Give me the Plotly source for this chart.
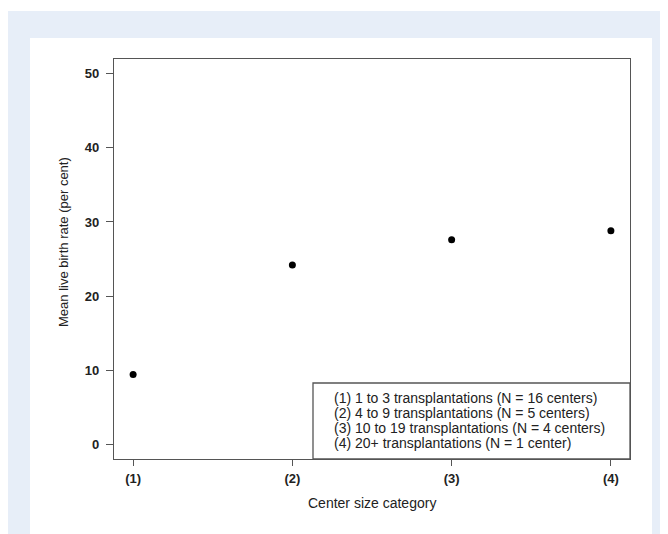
import plotly.graph_objects as go

categories = [1, 2, 3, 4]
category_labels = ["(1)", "(2)", "(3)", "(4)"]
mean_live_birth_rate = [9.4, 24.2, 27.6, 28.8]
y_ticks = [0, 10, 20, 30, 40, 50]
legend_lines = [
    "(1) 1 to 3 transplantations (N = 16 centers)",
    "(2) 4 to 9 transplantations (N = 5 centers)",
    "(3) 10 to 19 transplantations (N = 4 centers)",
    "(4) 20+ transplantations (N = 1 center)",
]

OFF = 8  # page body margin
W, H = 660, 526
L, T = 114 - OFF, 59 - OFF
Rgt, Bot = 630 - OFF, 459 - OFF
R, B = W - Rgt, H - Bot
pw, ph = Rgt - L, Bot - T


def px_x(p):
    return (p - OFF - L) / pw


def px_y(p):
    return (Bot - (p - OFF)) / ph


FONT = "Liberation Sans, Arial, Helvetica, sans-serif"
AX = "#555555"
TXT = "#222222"

fig = go.Figure()
fig.add_trace(go.Scatter(
    x=categories, y=mean_live_birth_rate, mode="markers",
    marker=dict(color="black", size=7), showlegend=False,
    hoverinfo="skip",
))

shapes = [
    dict(type="rect", xref="paper", yref="paper", layer="below",
         x0=px_x(8), x1=px_x(700), y0=px_y(560), y1=px_y(11),
         fillcolor="#e7eef8", line=dict(width=0)),
    dict(type="rect", xref="paper", yref="paper", layer="below",
         x0=px_x(30), x1=px_x(652), y0=px_y(560), y1=px_y(38),
         fillcolor="white", line=dict(width=0)),
    dict(type="rect", xref="paper", yref="paper",
         x0=px_x(313), x1=1, y0=0, y1=px_y(383),
         fillcolor="rgba(0,0,0,0)", line=dict(color=AX, width=1.3)),
]

annotations = []
line_y = [398, 413, 428, 443]
for txt, yy in zip(legend_lines, line_y):
    annotations.append(dict(
        xref="paper", yref="paper", x=px_x(332), y=px_y(yy),
        xanchor="left", yanchor="middle", showarrow=False, text=txt,
        font=dict(family=FONT, size=14, color=TXT),
    ))

annotations.append(dict(
    xref="paper", yref="paper", x=px_x(372), y=px_y(503),
    xanchor="center", yanchor="middle", showarrow=False,
    text="Center size category",
    font=dict(family=FONT, size=14, color=TXT),
))
annotations.append(dict(
    xref="paper", yref="paper", x=px_x(63), y=px_y(242),
    xanchor="center", yanchor="middle", showarrow=False, textangle=-90,
    text="Mean live birth rate (per cent)",
    font=dict(family=FONT, size=13, color=TXT),
))

fig.update_layout(
    width=W, height=H,
    margin=dict(l=L, r=R, t=T, b=B, pad=0),
    paper_bgcolor="white", plot_bgcolor="white",
    shapes=shapes, annotations=annotations,
    xaxis=dict(
        range=[0.88, 4.12], tickvals=categories, ticktext=category_labels,
        showgrid=False, zeroline=False, showline=True, mirror=True,
        linecolor=AX, linewidth=1.3, ticks="outside", ticklen=6,
        tickcolor=AX, tickwidth=1.2, ticklabelstandoff=1,
        tickfont=dict(family=FONT, size=13, color=TXT, weight="bold"),
    ),
    yaxis=dict(
        range=[-2, 52], tickvals=y_ticks,
        showgrid=False, zeroline=False, showline=True, mirror=True,
        linecolor=AX, linewidth=1.3, ticks="outside", ticklen=7,
        tickcolor=AX, tickwidth=1.2, ticklabelstandoff=4,
        tickfont=dict(family=FONT, size=13, color=TXT, weight="bold"),
    ),
)

fig.write_html("out.html")
